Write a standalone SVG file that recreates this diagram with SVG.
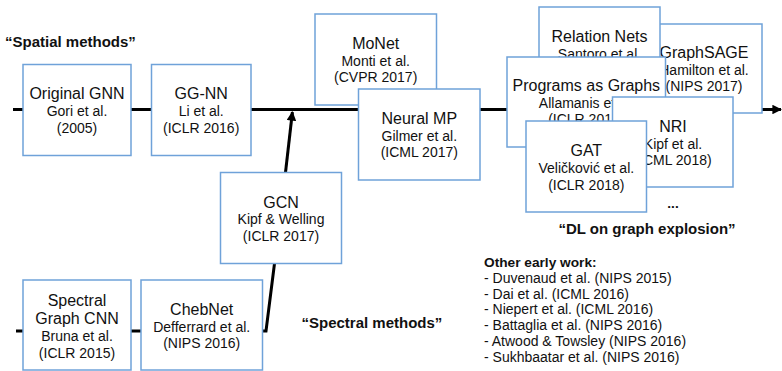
<svg xmlns="http://www.w3.org/2000/svg" width="782" height="371" viewBox="0 0 782 371">
<style>
  .box { fill: #ffffff; stroke: #6fa2d9; stroke-width: 1.5; }
  .conn { fill: none; stroke: #000000; stroke-width: 3; }
  text { font-family: "Liberation Sans", Arial, sans-serif; fill: #111111; }
  .t { font-size: 16px; text-anchor: middle; }
  .s { font-size: 14px; text-anchor: middle; }
  .lbl { font-size: 15px; font-weight: bold; }
  .hd { font-size: 13.7px; font-weight: bold; }
  .lst { font-size: 14px; }
</style>
<defs>
  <marker id="ah" viewBox="0 0 10 10" refX="9" refY="5" markerWidth="3.4" markerHeight="3.2" orient="auto" markerUnits="strokeWidth">
    <path d="M0,0 L10,5 L0,10 z" fill="#000000"/>
  </marker>
</defs>
<rect width="782" height="371" fill="#ffffff"/>

<g id="connectors">
  <line class="conn" x1="13" y1="109.5" x2="781" y2="109.5" marker-end="url(#ah)"/>
  <polyline class="conn" points="16,331 266,331 274.5,263.5"/>
  <line class="conn" x1="285.5" y1="172.5" x2="292.4" y2="112" marker-end="url(#ah)"/>
</g>

<g id="labels">
  <text class="lbl" x="5" y="47">“Spatial methods”</text>
  <text class="lbl" x="301.5" y="328">“Spectral methods”</text>
  <text class="lbl" x="647" y="233.5" text-anchor="middle">“DL on graph explosion”</text>
  <text class="hd" x="673" y="208" text-anchor="middle">...</text>
</g>

<g id="original-gnn">
  <rect class="box" x="23" y="64.5" width="108" height="91"/>
  <text class="t" x="77" y="99">Original GNN</text>
  <text class="s" x="77" y="116">Gori et al.</text>
  <text class="s" x="77" y="133">(2005)</text>
</g>

<g id="gg-nn">
  <rect class="box" x="151.5" y="64.5" width="99.5" height="91"/>
  <text class="t" x="201.2" y="99">GG-NN</text>
  <text class="s" x="201.2" y="116">Li et al.</text>
  <text class="s" x="201.2" y="133">(ICLR 2016)</text>
</g>

<g id="monet">
  <rect class="box" x="315" y="14" width="121.5" height="91"/>
  <text class="t" x="375.7" y="49.3">MoNet</text>
  <text class="s" x="375.7" y="65.5">Monti et al.</text>
  <text class="s" x="375.7" y="82">(CVPR 2017)</text>
</g>

<g id="neural-mp">
  <rect class="box" x="358.5" y="89" width="121.5" height="91"/>
  <text class="t" x="419.3" y="124">Neural MP</text>
  <text class="s" x="419.3" y="140.5">Gilmer et al.</text>
  <text class="s" x="419.3" y="157">(ICML 2017)</text>
</g>

<g id="gcn">
  <rect class="box" x="220.5" y="172.5" width="121" height="91"/>
  <text class="t" x="281" y="207.7">GCN</text>
  <text class="s" x="281" y="224">Kipf &amp; Welling</text>
  <text class="s" x="281" y="240.5">(ICLR 2017)</text>
</g>

<g id="spectral-graph-cnn">
  <rect class="box" x="23" y="280" width="108" height="90"/>
  <text class="t" x="77" y="305.7">Spectral</text>
  <text class="t" x="77" y="324.3">Graph CNN</text>
  <text class="s" x="77" y="341">Bruna et al.</text>
  <text class="s" x="77" y="357.5">(ICLR 2015)</text>
</g>

<g id="chebnet">
  <rect class="box" x="141" y="280" width="121.5" height="90"/>
  <text class="t" x="201.7" y="315">ChebNet</text>
  <text class="s" x="201.7" y="331.7">Defferrard et al.</text>
  <text class="s" x="201.7" y="348">(NIPS 2016)</text>
</g>

<g id="graphsage">
  <rect class="box" x="646" y="24" width="116" height="89"/>
  <text class="t" x="704" y="58">GraphSAGE</text>
  <text class="s" x="704" y="74.5">Hamilton et al.</text>
  <text class="s" x="704" y="91">(NIPS 2017)</text>
</g>

<g id="relation-nets">
  <rect class="box" x="539" y="7" width="121" height="90"/>
  <text class="t" x="599.5" y="42">Relation Nets</text>
  <text class="s" x="599.5" y="59">Santoro et al.</text>
</g>

<g id="programs-as-graphs">
  <rect class="box" x="507" y="57" width="158.5" height="90"/>
  <text class="t" x="586.3" y="90.7">Programs as Graphs</text>
  <text class="s" x="586.3" y="107.5">Allamanis et al.</text>
  <text class="s" x="586.3" y="124">(ICLR 2018)</text>
</g>

<g id="nri">
  <rect class="box" x="612.5" y="97" width="120.5" height="90"/>
  <text class="t" x="673" y="131.7">NRI</text>
  <text class="s" x="673" y="148.5">Kipf et al.</text>
  <text class="s" x="673" y="165">(ICML 2018)</text>
</g>

<g id="gat">
  <rect class="box" x="526" y="121" width="120.5" height="91"/>
  <text class="t" x="586.3" y="156">GAT</text>
  <text class="s" x="586.3" y="173">Veličković et al.</text>
  <text class="s" x="586.3" y="190">(ICLR 2018)</text>
</g>

<g id="other-early-work">
  <text class="hd" x="484" y="266.7">Other early work:</text>
  <text class="lst" x="484" y="282.7">- Duvenaud et al. (NIPS 2015)</text>
  <text class="lst" x="484" y="298.5">- Dai et al. (ICML 2016)</text>
  <text class="lst" x="484" y="314.2">- Niepert et al. (ICML 2016)</text>
  <text class="lst" x="484" y="330">- Battaglia et al. (NIPS 2016)</text>
  <text class="lst" x="484" y="345.8">- Atwood &amp; Towsley (NIPS 2016)</text>
  <text class="lst" x="484" y="361.6">- Sukhbaatar et al. (NIPS 2016)</text>
</g>
</svg>
